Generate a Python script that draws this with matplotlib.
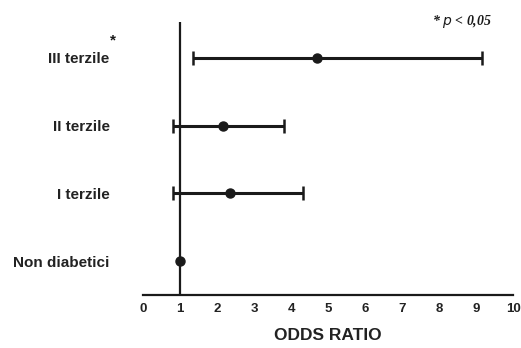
import matplotlib
matplotlib.use("Agg")
import matplotlib.pyplot as plt

# Odds ratios with 95% confidence intervals
groups = ["Non diabetici", "I terzile", "II terzile", "III terzile"]
odds_ratio = [1.0, 2.35, 2.15, 4.70]
ci_low = [1.0, 0.82, 0.82, 1.35]
ci_high = [1.0, 4.32, 3.80, 9.15]
significant = [False, False, False, True]
xticks = list(range(0, 11))

plt.rcParams["font.family"] = ["Liberation Sans", "DejaVu Sans"]

fig = plt.figure(figsize=(5.21, 3.48), dpi=100)
ax = fig.add_axes([0.2745, 0.152, 0.7105, 0.785])

ypos = list(range(len(groups)))
ink = "#1a1a1a"

ax.axvline(1, color=ink, lw=1.6, zorder=1)

for y, m, lo, hi in zip(ypos, odds_ratio, ci_low, ci_high):
    if hi > lo:
        ax.errorbar(m, y, xerr=[[m - lo], [hi - m]], fmt="none",
                    ecolor=ink, elinewidth=2.2, capsize=5, capthick=1.8, zorder=2)
    ax.plot(m, y, "o", color=ink, ms=6.5, zorder=3)

ax.set_xlim(0, 10)
ax.set_ylim(-0.5, 3.53)
ax.set_xticks(xticks)
ax.set_xticklabels([str(t) for t in xticks], fontsize=9.5, fontweight="bold", color="#222222")
ax.tick_params(axis="x", length=0, pad=6)
ax.set_yticks(ypos)
ax.set_yticklabels(groups, fontsize=11, fontweight="bold", color="#222222")
ax.tick_params(axis="y", length=0, pad=24)

for side in ["top", "right", "left"]:
    ax.spines[side].set_visible(False)
ax.spines["bottom"].set_linewidth(1.6)
ax.spines["bottom"].set_color(ink)

ax.set_xlabel("ODDS RATIO", fontsize=12.5, fontweight="bold", color="#222222", labelpad=9)

for y, sig in zip(ypos, significant):
    if sig:
        fig.text(113 / 521, 1 - 40 / 348, "*", fontsize=11, fontweight="bold",
                 ha="center", va="center", color=ink)

fig.text(492 / 521, 1 - 22 / 348, "* $p$ < 0,05", fontsize=10, fontweight="bold",
         fontstyle="italic", family="Liberation Serif", ha="right", va="center", color=ink)

fig.savefig("out.png", dpi=100)
